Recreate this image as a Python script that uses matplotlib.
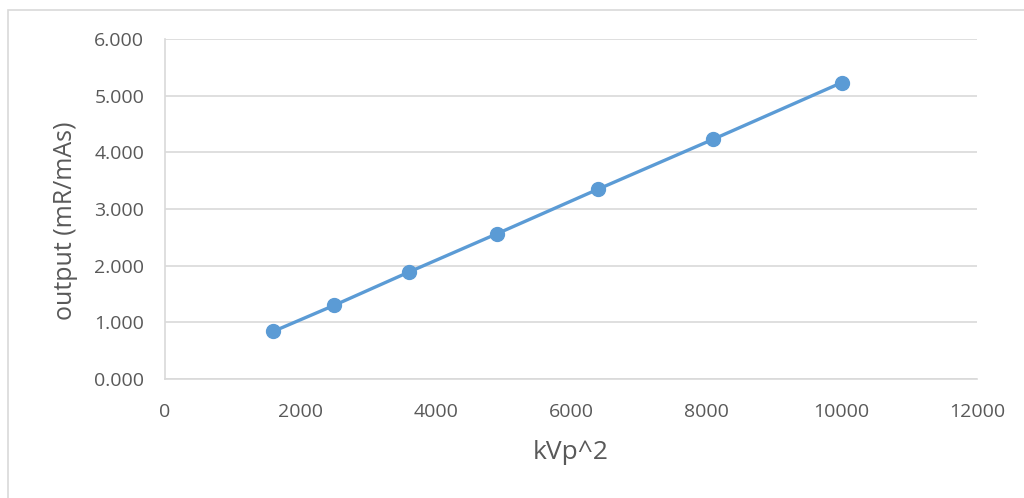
import matplotlib
matplotlib.use("Agg")
import matplotlib.pyplot as plt
from matplotlib.patches import Rectangle

kvp_sq = [1600, 2500, 3600, 4900, 6400, 8100, 10000]
output = [0.840, 1.300, 1.885, 2.560, 3.350, 4.230, 5.230]

plt.rcParams['font.family'] = ['Open Sans', 'DejaVu Sans']

fig = plt.figure(figsize=(10.24, 4.98), dpi=100)
fig.patch.set_facecolor('white')
fig.patches.append(Rectangle((8/1024, -0.1), 1.2, 1.1 - 10/498, transform=fig.transFigure,
                             fill=False, edgecolor='#D9D9D9', linewidth=1.2))

ax = fig.add_axes([165/1024, 1 - 379/498, (977 - 165)/1024, (379 - 39)/498])
ax.plot(kvp_sq, output, color='#5B9BD5', linewidth=2.4, marker='o', markersize=10,
        markerfacecolor='#5B9BD5', markeredgecolor='#5B9BD5', zorder=3)

ax.set_xlim(0, 12000)
ax.set_ylim(0, 6)
ax.set_xticks(range(0, 12001, 2000))
ax.set_yticks([0, 1, 2, 3, 4, 5, 6])
ax.set_yticklabels([f"{v:.3f}" for v in [0, 1, 2, 3, 4, 5, 6]])
ax.grid(axis='y', color='#D9D9D9', linewidth=1.2)
ax.set_axisbelow(True)
for s in ['top', 'right']:
    ax.spines[s].set_visible(False)
for s in ['left', 'bottom']:
    ax.spines[s].set_color('#D9D9D9')
    ax.spines[s].set_linewidth(1.2)
ax.tick_params(axis='both', length=0, labelsize=14, colors='#595959')
ax.tick_params(axis='y', pad=15)
ax.tick_params(axis='x', pad=17)
ax.set_xlabel('kVp^2', fontsize=19, color='#595959', labelpad=14)
ax.set_ylabel('output (mR/mAs)', fontsize=18, color='#595959')
ax.yaxis.set_label_coords(-0.107, 0.465)

fig.savefig('out.png', dpi=100)
